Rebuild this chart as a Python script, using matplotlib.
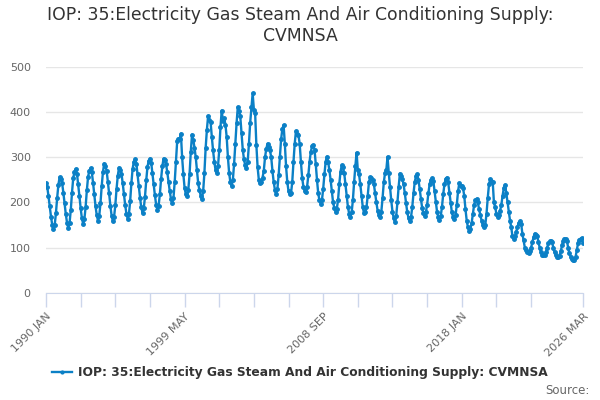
import numpy as np
import matplotlib
matplotlib.use("Agg")
import matplotlib.pyplot as plt

# monthly values, Jan 1990 .. Mar 2026
v1990 = [242, 234, 214, 192, 169, 151, 141, 150, 176, 210, 239, 256]
v1991 = [252, 243, 222, 198, 174, 155, 144, 154, 183, 222, 254, 268]
v1992 = [274, 264, 240, 214, 187, 165, 153, 163, 190, 227, 257, 270]
v1993 = [276, 267, 244, 218, 192, 172, 160, 170, 198, 236, 267, 286]
v1994 = [280, 270, 246, 220, 193, 171, 159, 168, 194, 230, 259, 277]
v1995 = [272, 263, 242, 218, 194, 175, 164, 174, 203, 243, 275, 290]
v1996 = [295, 286, 262, 236, 210, 189, 177, 187, 213, 249, 279, 292]
v1997 = [297, 288, 265, 240, 216, 195, 184, 193, 218, 252, 280, 297]
v1998 = [293, 285, 267, 246, 225, 208, 199, 210, 245, 290, 335, 341]
v1999 = [340, 352, 300, 262, 232, 218, 214, 228, 262, 312, 350, 338]
v2000 = [321, 300, 272, 242, 227, 215, 208, 225, 265, 320, 360, 391]
v2001 = [382, 378, 345, 315, 290, 272, 265, 280, 316, 367, 403, 380]
v2002 = [386, 372, 345, 300, 265, 245, 236, 250, 285, 330, 375, 411]
v2003 = [403, 390, 353, 317, 295, 282, 277, 290, 330, 376, 410, 441]
v2004 = [405, 398, 327, 278, 250, 243, 246, 255, 270, 300, 318, 330]
v2005 = [322, 315, 300, 270, 245, 228, 219, 230, 260, 300, 340, 362]
v2006 = [371, 330, 280, 245, 225, 218, 220, 245, 290, 330, 358, 352]
v2007 = [349, 330, 290, 255, 235, 226, 223, 235, 260, 290, 312, 324]
v2008 = [327, 317, 285, 250, 220, 205, 197, 205, 230, 262, 290, 301]
v2009 = [290, 271, 250, 225, 200, 188, 180, 186, 205, 240, 268, 282]
v2010 = [278, 265, 240, 215, 190, 175, 168, 178, 205, 245, 280, 310]
v2011 = [271, 262, 240, 215, 190, 176, 178, 190, 215, 245, 256, 254]
v2012 = [250, 240, 220, 200, 182, 172, 169, 180, 210, 245, 265, 271]
v2013 = [301, 265, 235, 205, 180, 165, 157, 170, 200, 235, 264, 258]
v2014 = [252, 240, 220, 198, 178, 165, 159, 168, 190, 220, 245, 258]
v2015 = [262, 250, 230, 208, 188, 176, 171, 178, 195, 220, 240, 250]
v2016 = [253, 248, 225, 200, 180, 168, 162, 170, 190, 218, 240, 252]
v2017 = [255, 245, 222, 198, 178, 168, 164, 172, 195, 225, 242, 236]
v2018 = [236, 232, 215, 185, 160, 145, 138, 142, 155, 175, 195, 205]
v2019 = [208, 200, 185, 172, 160, 150, 146, 150, 175, 210, 240, 251]
v2020 = [248, 246, 200, 190, 175, 168, 172, 182, 195, 215, 232, 239]
v2021 = [220, 201, 180, 160, 145, 125, 120, 125, 135, 145, 155, 159]
v2022 = [153, 131, 116, 100, 95, 90, 88, 92, 100, 112, 123, 131]
v2023 = [128, 125, 112, 100, 90, 85, 84, 83, 90, 100, 110, 114]
v2024 = [114, 112, 100, 90, 84, 80, 79, 82, 92, 105, 115, 120]
v2025 = [120, 115, 100, 88, 80, 76, 74, 73, 80, 95, 110, 118]
v2026 = [120, 121, 110]

values = (v1990 + v1991 + v1992 + v1993 + v1994 + v1995 + v1996 + v1997 + v1998 + v1999
          + v2000 + v2001 + v2002 + v2003 + v2004 + v2005 + v2006 + v2007 + v2008 + v2009
          + v2010 + v2011 + v2012 + v2013 + v2014 + v2015 + v2016 + v2017 + v2018 + v2019
          + v2020 + v2021 + v2022 + v2023 + v2024 + v2025 + v2026)

months = ["JAN", "FEB", "MAR", "APR", "MAY", "JUN", "JUL", "AUG", "SEP", "OCT", "NOV", "DEC"]
tick_pos = list(range(0, 393, 28)) + [len(values) - 1]
label_pos = [0, 112, 224, 336, len(values) - 1]

title = "IOP: 35:Electricity Gas Steam And Air Conditioning Supply:\nCVMNSA"
series_name = "IOP: 35:Electricity Gas Steam And Air Conditioning Supply: CVMNSA"

blue = "#0b80c6"
grey = "#666666"

fig = plt.figure(figsize=(6, 4), dpi=100)
ax = fig.add_axes([0.0767, 0.2675, 0.895, 0.5658])

x = np.arange(len(values))
ax.plot(x, values, color=blue, lw=1.7, marker="o", ms=2.5, mec=blue, mfc=blue,
        label=series_name, zorder=3)

ax.set_xlim(0, len(values) - 1)
ax.set_ylim(0, 500)
ax.set_yticks(range(0, 501, 100))
ax.grid(axis="y", color="#e6e6e6", lw=1)
ax.set_axisbelow(True)

labels = []
for p in tick_pos:
    if p in label_pos:
        labels.append("%d %s" % (1990 + p // 12, months[p % 12]))
    else:
        labels.append("")
ax.set_xticks(tick_pos)
ax.set_xticklabels(labels, rotation=45, ha="right", rotation_mode="anchor")

for s in ["top", "right", "left"]:
    ax.spines[s].set_visible(False)
ax.spines["bottom"].set_color("#ccd6eb")
ax.tick_params(axis="x", colors="#ccd6eb", length=10, width=1, labelcolor=grey,
               labelsize=8, pad=3)
ax.tick_params(axis="y", length=0, labelcolor=grey, labelsize=8, pad=11)

fig.suptitle(title, x=0.5, y=0.985, fontsize=12.4, color="#333333", va="top")

leg = fig.legend(loc="center", bbox_to_anchor=(0.5, 0.068), frameon=False,
                 prop={"weight": "bold", "size": 8.8}, handlelength=1.6,
                 handletextpad=0.5, markerscale=0.8)
for t in leg.get_texts():
    t.set_color("#333333")

fig.text(0.983, 0.025, "Source:", ha="right", va="center", fontsize=8.5, color=grey)

fig.savefig("out.png", dpi=100)
